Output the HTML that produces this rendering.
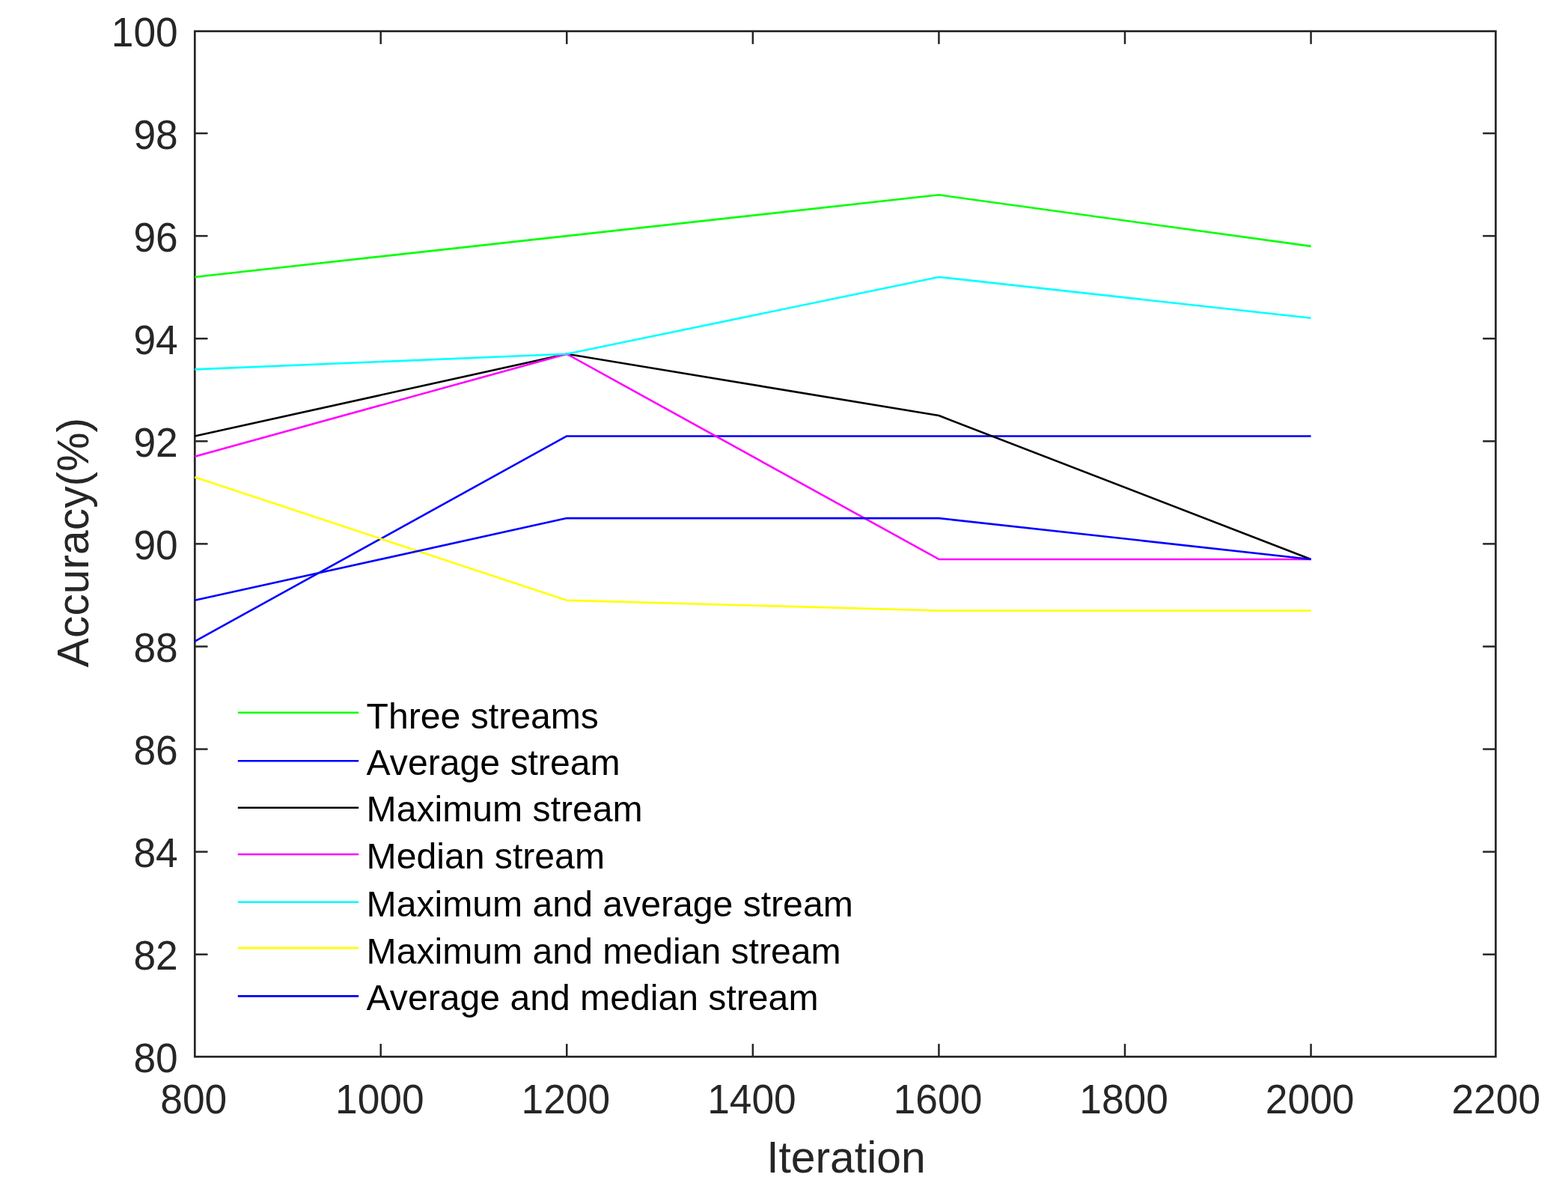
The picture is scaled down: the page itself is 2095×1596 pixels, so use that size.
<!DOCTYPE html>
<html lang="en"><head><meta charset="utf-8"><title>Accuracy vs Iteration</title>
<style>
html,body{margin:0;padding:0;background:#fff;}
body{width:2095px;height:1596px;overflow:hidden;}
svg{display:block;font-family:"Liberation Sans",sans-serif;}
.tk{font-size:53.33px;fill:#262626;}
.lb{font-size:58.80px;fill:#262626;}
.lg{font-size:48.15px;fill:#000;}
.ax{stroke:#262626;stroke-width:2.70;fill:none;stroke-linecap:butt;}
.tm{stroke:#262626;stroke-width:2.50;fill:none;}
.ln{stroke-width:2.60;fill:none;stroke-linejoin:round;stroke-linecap:butt;}
</style></head><body>
<svg width="2095" height="1596" viewBox="0 0 2095 1596" role="img" aria-label="Accuracy versus iteration line chart">
<rect x="0" y="0" width="2095" height="1596" fill="#ffffff"/>
<g id="chart">
<g id="axes">
<rect class="ax" x="260.30" y="41.70" width="1738.10" height="1369.60"/>
<line class="tm" x1="508.70" y1="1411.30" x2="508.70" y2="1394.10"/>
<line class="tm" x1="508.70" y1="41.70" x2="508.70" y2="58.90"/>
<line class="tm" x1="757.27" y1="1411.30" x2="757.27" y2="1394.10"/>
<line class="tm" x1="757.27" y1="41.70" x2="757.27" y2="58.90"/>
<line class="tm" x1="1005.85" y1="1411.30" x2="1005.85" y2="1394.10"/>
<line class="tm" x1="1005.85" y1="41.70" x2="1005.85" y2="58.90"/>
<line class="tm" x1="1254.42" y1="1411.30" x2="1254.42" y2="1394.10"/>
<line class="tm" x1="1254.42" y1="41.70" x2="1254.42" y2="58.90"/>
<line class="tm" x1="1502.99" y1="1411.30" x2="1502.99" y2="1394.10"/>
<line class="tm" x1="1502.99" y1="41.70" x2="1502.99" y2="58.90"/>
<line class="tm" x1="1751.56" y1="1411.30" x2="1751.56" y2="1394.10"/>
<line class="tm" x1="1751.56" y1="41.70" x2="1751.56" y2="58.90"/>
<line class="tm" x1="260.30" y1="1274.69" x2="277.50" y2="1274.69"/>
<line class="tm" x1="1998.40" y1="1274.69" x2="1981.20" y2="1274.69"/>
<line class="tm" x1="260.30" y1="1137.61" x2="277.50" y2="1137.61"/>
<line class="tm" x1="1998.40" y1="1137.61" x2="1981.20" y2="1137.61"/>
<line class="tm" x1="260.30" y1="1000.53" x2="277.50" y2="1000.53"/>
<line class="tm" x1="1998.40" y1="1000.53" x2="1981.20" y2="1000.53"/>
<line class="tm" x1="260.30" y1="863.45" x2="277.50" y2="863.45"/>
<line class="tm" x1="1998.40" y1="863.45" x2="1981.20" y2="863.45"/>
<line class="tm" x1="260.30" y1="726.37" x2="277.50" y2="726.37"/>
<line class="tm" x1="1998.40" y1="726.37" x2="1981.20" y2="726.37"/>
<line class="tm" x1="260.30" y1="589.29" x2="277.50" y2="589.29"/>
<line class="tm" x1="1998.40" y1="589.29" x2="1981.20" y2="589.29"/>
<line class="tm" x1="260.30" y1="452.21" x2="277.50" y2="452.21"/>
<line class="tm" x1="1998.40" y1="452.21" x2="1981.20" y2="452.21"/>
<line class="tm" x1="260.30" y1="315.13" x2="277.50" y2="315.13"/>
<line class="tm" x1="1998.40" y1="315.13" x2="1981.20" y2="315.13"/>
<line class="tm" x1="260.30" y1="178.05" x2="277.50" y2="178.05"/>
<line class="tm" x1="1998.40" y1="178.05" x2="1981.20" y2="178.05"/>
</g>
<g id="xticklabels">
<text class="tk" transform="translate(258.73 1487.40) scale(1 1.045)" text-anchor="middle">800</text>
<text class="tk" transform="translate(507.30 1487.40) scale(1 1.045)" text-anchor="middle">1000</text>
<text class="tk" transform="translate(755.87 1487.40) scale(1 1.045)" text-anchor="middle">1200</text>
<text class="tk" transform="translate(1004.45 1487.40) scale(1 1.045)" text-anchor="middle">1400</text>
<text class="tk" transform="translate(1253.02 1487.40) scale(1 1.045)" text-anchor="middle">1600</text>
<text class="tk" transform="translate(1501.59 1487.40) scale(1 1.045)" text-anchor="middle">1800</text>
<text class="tk" transform="translate(1750.16 1487.40) scale(1 1.045)" text-anchor="middle">2000</text>
<text class="tk" transform="translate(1998.73 1487.40) scale(1 1.045)" text-anchor="middle">2200</text>
</g>
<g id="yticklabels">
<text class="tk" transform="translate(237.70 1432.47) scale(1 1.045)" text-anchor="end">80</text>
<text class="tk" transform="translate(237.70 1295.39) scale(1 1.045)" text-anchor="end">82</text>
<text class="tk" transform="translate(237.70 1158.31) scale(1 1.045)" text-anchor="end">84</text>
<text class="tk" transform="translate(237.70 1021.23) scale(1 1.045)" text-anchor="end">86</text>
<text class="tk" transform="translate(237.70 884.15) scale(1 1.045)" text-anchor="end">88</text>
<text class="tk" transform="translate(237.70 747.07) scale(1 1.045)" text-anchor="end">90</text>
<text class="tk" transform="translate(237.70 609.99) scale(1 1.045)" text-anchor="end">92</text>
<text class="tk" transform="translate(237.70 472.91) scale(1 1.045)" text-anchor="end">94</text>
<text class="tk" transform="translate(237.70 335.83) scale(1 1.045)" text-anchor="end">96</text>
<text class="tk" transform="translate(237.70 198.75) scale(1 1.045)" text-anchor="end">98</text>
<text class="tk" transform="translate(237.70 61.67) scale(1 1.045)" text-anchor="end">100</text>
</g>
<text class="lb" x="1130.40" y="1565.60" text-anchor="middle">Iteration</text>
<text class="lb" transform="translate(117.90 724.60) rotate(-90)" text-anchor="middle">Accuracy(%)</text>
<g id="series">
<polyline class="ln" stroke="#00ff00" points="260.13,369.96 757.27,315.13 1254.42,260.30 1751.56,328.84"/>
<polyline class="ln" stroke="#0000ff" points="260.13,856.60 757.27,582.44 1254.42,582.44 1751.56,582.44"/>
<polyline class="ln" stroke="#000000" points="260.13,582.44 757.27,472.77 1254.42,555.02 1751.56,746.93"/>
<polyline class="ln" stroke="#ff00ff" points="260.13,609.85 757.27,472.77 1254.42,746.93 1751.56,746.93"/>
<polyline class="ln" stroke="#00ffff" points="260.13,493.33 757.27,472.77 1254.42,369.96 1751.56,424.79"/>
<polyline class="ln" stroke="#ffff00" points="260.13,637.27 757.27,801.76 1254.42,815.47 1751.56,815.47"/>
<polyline class="ln" stroke="#0000ff" points="260.13,801.76 757.27,692.10 1254.42,692.10 1751.56,746.93"/>
</g>
<g id="legend">
<line class="ln" stroke="#00ff00" x1="317.80" y1="951.80" x2="479.20" y2="951.80"/>
<text class="lg" x="489.60" y="972.50">Three streams</text>
<line class="ln" stroke="#0000ff" x1="317.80" y1="1016.20" x2="479.20" y2="1016.20"/>
<text class="lg" x="489.60" y="1034.90">Average stream</text>
<line class="ln" stroke="#000000" x1="317.80" y1="1078.80" x2="479.20" y2="1078.80"/>
<text class="lg" x="489.60" y="1097.20">Maximum stream</text>
<line class="ln" stroke="#ff00ff" x1="317.80" y1="1141.00" x2="479.20" y2="1141.00"/>
<text class="lg" x="489.60" y="1159.90">Median stream</text>
<line class="ln" stroke="#00ffff" x1="317.80" y1="1204.70" x2="479.20" y2="1204.70"/>
<text class="lg" x="489.60" y="1223.60">Maximum and average stream</text>
<line class="ln" stroke="#ffff00" x1="317.80" y1="1266.10" x2="479.20" y2="1266.10"/>
<text class="lg" x="489.60" y="1286.60">Maximum and median stream</text>
<line class="ln" stroke="#0000ff" x1="317.80" y1="1330.40" x2="479.20" y2="1330.40"/>
<text class="lg" x="489.60" y="1348.90">Average and median stream</text>
</g>
</g>
</svg>
</body></html>
